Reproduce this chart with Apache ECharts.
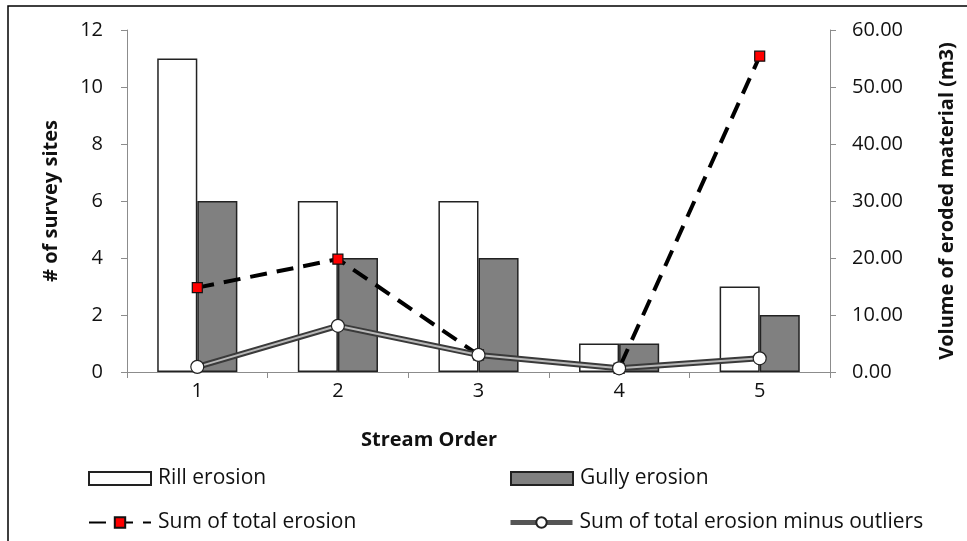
<!DOCTYPE html>
<html>
<head>
<meta charset="utf-8">
<script src="https://cdn.jsdelivr.net/npm/echarts@6/dist/echarts.min.js"></script>
<style>
  html, body { margin: 0; padding: 0; background: #fff; }
  #chart { width: 967px; height: 541px; }
</style>
</head>
<body>
<div id="chart"></div>
<script>
// Stream order categories
const streamOrders = ['1', '2', '3', '4', '5'];
// Number of survey sites (left axis)
const rillSites = [11, 6, 6, 1, 3];
const gullySites = [6, 4, 4, 1, 2];
// Volume of eroded material, m3 (right axis)
const totalErosion = [14.8, 19.8, 3.0, 0.65, 55.4];
const totalMinusOutliers = [0.9, 8.1, 3.0, 0.65, 2.4];
// Axis ticks
const sitesTicks = { min: 0, max: 12, interval: 2 };
const volumeTicks = { min: 0, max: 60, interval: 10 };

const FONT = '"Open Sans", Lato, sans-serif';
const axisGrey = '#8c8c8c';
const textColor = '#111';

const chart = echarts.init(document.getElementById('chart'));

const legendBase = {
  orient: 'horizontal',
  itemWidth: 62,
  itemHeight: 13,
  itemGap: 6,
  textStyle: { fontFamily: FONT, fontSize: 21, color: textColor, padding: [0, 0, 0, 2] },
  selectedMode: false
};

chart.setOption({
  animation: false,
  backgroundColor: '#fff',
  grid: { left: 127, right: 137, top: 30, bottom: 169 },
  xAxis: {
    type: 'category',
    data: streamOrders,
    axisLine: { lineStyle: { color: axisGrey, width: 1 } },
    axisTick: { show: true, length: 6, lineStyle: { color: axisGrey } },
    axisLabel: { fontFamily: FONT, fontSize: 20, color: textColor, margin: 9 }
  },
  yAxis: [
    {
      type: 'value',
      min: sitesTicks.min, max: sitesTicks.max, interval: sitesTicks.interval,
      name: '# of survey sites',
      nameLocation: 'middle',
      nameGap: 66,
      nameTextStyle: { fontFamily: FONT, fontSize: 20, fontWeight: 'bold', color: textColor },
      axisLine: { show: true, lineStyle: { color: axisGrey } },
      axisTick: { show: true, length: 6, lineStyle: { color: axisGrey } },
      axisLabel: { fontFamily: FONT, fontSize: 20, color: textColor, margin: 24 },
      splitLine: { show: false }
    },
    {
      type: 'value',
      position: 'right',
      min: volumeTicks.min, max: volumeTicks.max, interval: volumeTicks.interval,
      name: 'Volume of eroded material (m3)',
      nameLocation: 'middle',
      nameGap: 107,
      nameTextStyle: { fontFamily: FONT, fontSize: 20, fontWeight: 'bold', color: textColor },
      axisLine: { show: true, lineStyle: { color: axisGrey } },
      axisTick: { show: true, length: 6, lineStyle: { color: axisGrey } },
      axisLabel: {
        fontFamily: FONT, fontSize: 20, color: textColor, margin: 22,
        formatter: v => v.toFixed(2)
      },
      splitLine: { show: false }
    }
  ],
  legend: [
    Object.assign({}, legendBase, { data: [{ name: 'Rill erosion', icon: 'rect' }], left: 83, top: 463 }),
    Object.assign({}, legendBase, { data: [{ name: 'Gully erosion', icon: 'rect' }], left: 505, top: 463 }),
    Object.assign({}, legendBase, { data: ['Sum of total erosion'], left: 83, top: 507 }),
    Object.assign({}, legendBase, {
      data: [{ name: 'Sum of total erosion minus outliers', lineStyle: { width: 5, color: '#555' } }],
      left: 503, top: 507
    })
  ],
  graphic: [
    {
      type: 'rect',
      shape: { x: 8, y: 6, width: 1000, height: 600 },
      style: { fill: 'none', stroke: '#000', lineWidth: 1.5 },
      silent: true
    },
    {
      type: 'text',
      x: 429, y: 440,
      style: {
        text: 'Stream Order',
        font: 'bold 20px ' + FONT,
        fill: textColor,
        textAlign: 'center',
        textVerticalAlign: 'middle'
      }
    }
  ],
  series: [
    {
      name: 'Rill erosion',
      type: 'bar',
      yAxisIndex: 0,
      data: rillSites,
      barGap: '0%',
      barCategoryGap: '43%',
      itemStyle: { color: '#ffffff', borderColor: '#222', borderWidth: 1.5 },
      z: 1
    },
    {
      name: 'Gully erosion',
      type: 'bar',
      yAxisIndex: 0,
      data: gullySites,
      itemStyle: { color: '#808080', borderColor: '#222', borderWidth: 1.5 },
      z: 1
    },
    {
      name: 'Sum of total erosion',
      type: 'line',
      yAxisIndex: 1,
      data: totalErosion,
      symbol: 'rect',
      symbolSize: 10,
      itemStyle: { color: '#ff0000', borderColor: '#111', borderWidth: 1.2 },
      lineStyle: { color: '#000', width: 4, type: [17, 10], cap: 'butt' },
      z: 3
    },
    {
      // outer dark band of the minus-outliers line
      name: 'Sum of total erosion minus outliers',
      type: 'line',
      yAxisIndex: 1,
      data: totalMinusOutliers,
      symbol: 'circle',
      symbolSize: 11,
      showSymbol: false,
      itemStyle: { color: '#ffffff', borderColor: '#222', borderWidth: 1.2 },
      lineStyle: { color: '#3a3a3a', width: 6 },
      z: 4
    },
    {
      // lighter inner stroke and the circle markers
      type: 'line',
      yAxisIndex: 1,
      data: totalMinusOutliers,
      symbol: 'circle',
      symbolSize: 13,
      showSymbol: true,
      silent: true,
      itemStyle: { color: '#ffffff', borderColor: '#222', borderWidth: 1.2 },
      lineStyle: { color: '#b8b8b8', width: 2 },
      z: 5
    }
  ]
});
</script>
</body>
</html>
